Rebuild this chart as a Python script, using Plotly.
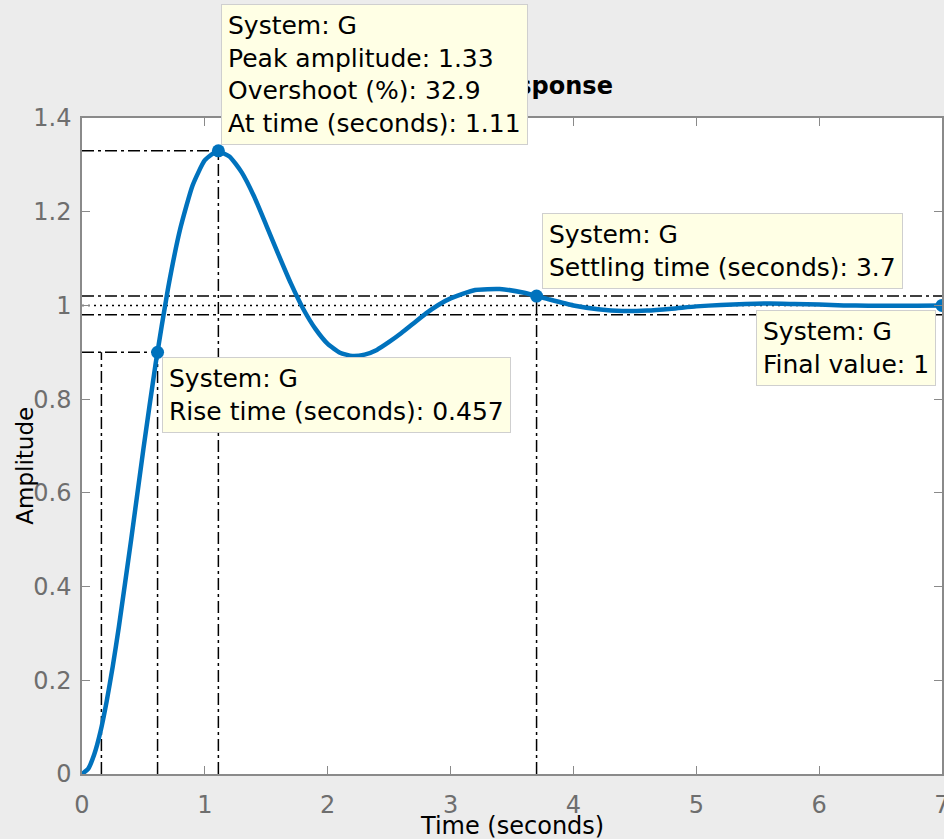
import plotly.graph_objects as go

# ---- data ----
time_s = [0.0, 0.05, 0.1, 0.15, 0.2, 0.25, 0.3, 0.4, 0.5, 0.6, 0.7, 0.8, 0.9, 1.0, 1.1, 1.2, 1.3, 1.4,
          1.5, 1.6, 1.7, 1.8, 1.9, 2.0, 2.1, 2.2, 2.3, 2.4, 2.5, 2.6, 2.7, 2.8, 2.9,
          3.0, 3.2, 3.4, 3.6, 3.8, 4.0, 4.2, 4.4, 4.6, 4.8, 5.0, 5.2, 5.4, 5.6, 5.8,
          6.0, 6.2, 6.4, 6.6, 6.8, 7.0]
amplitude = [0.0, 0.011, 0.042, 0.090, 0.154, 0.229, 0.314, 0.500, 0.694, 0.877, 1.036, 1.164, 1.256, 1.310,
             1.329, 1.318, 1.284, 1.233, 1.171, 1.108, 1.047, 0.993, 0.950, 0.918,
             0.899, 0.892, 0.895, 0.905, 0.922, 0.941, 0.962, 0.983, 1.001, 1.015,
             1.033, 1.035, 1.027, 1.013, 1.000, 0.992, 0.988, 0.989, 0.993, 0.998,
             1.001, 1.003, 1.004, 1.003, 1.002, 1.000, 0.9995, 0.9992, 0.9994, 0.9998]

rise_start = 0.158          # 10% time
rise_t, rise_y = 0.615, 0.9
peak_t, peak_y = 1.11, 1.33
settle_t, settle_y = 3.7, 1.02
final_t, final_y = 7.0, 1.0
band_lo, band_hi = 0.98, 1.02

x_ticks = [0, 1, 2, 3, 4, 5, 6, 7]
y_ticks = [0, 0.2, 0.4, 0.6, 0.8, 1.0, 1.2, 1.4]
y_tick_text = ["0", "0.2", "0.4", "0.6", "0.8", "1", "1.2", "1.4"]

BLUE = "#0072BD"
DASHDOT = "12px,4px,3px,4px"
DOT = "2px,4px"
FONT = "DejaVu Sans"

fig = go.Figure()


def ref_line(xs, ys, dash):
    fig.add_trace(go.Scatter(x=xs, y=ys, mode="lines", showlegend=False,
                             hoverinfo="skip",
                             line=dict(color="black", width=1.5, dash=dash)))


# settling band and final value lines
ref_line([0, final_t], [band_hi, band_hi], DASHDOT)
ref_line([0, final_t], [band_lo, band_lo], DASHDOT)
ref_line([0, final_t], [final_y, final_y], DOT)
# peak lines
ref_line([0, peak_t], [peak_y, peak_y], DASHDOT)
ref_line([peak_t, peak_t], [0, peak_y], DASHDOT)
# rise time lines
ref_line([0, rise_t], [rise_y, rise_y], DASHDOT)
ref_line([rise_t, rise_t], [0, rise_y], DASHDOT)
ref_line([rise_start, rise_start], [0, rise_y], DASHDOT)
# settling vertical
ref_line([settle_t, settle_t], [0, settle_y], DASHDOT)

# response curve
fig.add_trace(go.Scatter(x=time_s, y=amplitude, mode="lines", showlegend=False,
                         line=dict(color=BLUE, width=4.5, shape="spline", smoothing=0.5)))
# characteristic markers
fig.add_trace(go.Scatter(x=[rise_t, peak_t, settle_t, final_t],
                         y=[rise_y, peak_y, settle_y, final_y],
                         mode="markers", showlegend=False, cliponaxis=False,
                         marker=dict(color=BLUE, size=13)))

axis_common = dict(showline=True, linecolor="#8a8a8a", linewidth=1.5, mirror="ticks",
                   ticks="inside", ticklen=8, tickwidth=1.2, tickcolor="#8a8a8a",
                   showgrid=False, zeroline=False, ticklabeloverflow="allow",
                   automargin=False,
                   tickfont=dict(family=FONT, size=24, color="#6e6e6e"))

fig.update_xaxes(range=[0, 7], tickvals=x_ticks, ticklabelstandoff=8, **axis_common)
fig.update_yaxes(range=[0, 1.4], tickvals=y_ticks, ticktext=y_tick_text,
                 ticklabelstandoff=4, **axis_common)

tip = dict(showarrow=False, align="left", bgcolor="#ffffe5", bordercolor="#cfcfcf",
           borderwidth=1, borderpad=6, xref="x", yref="y",
           font=dict(family=FONT, size=25, color="black"))

annotations = [
    dict(text="<b>Step Response</b>", xref="paper", yref="paper", x=0.5,
         y=(774 - 86) / 656, showarrow=False, xanchor="center", yanchor="middle",
         font=dict(family=FONT, size=24, color="black")),
    dict(text="Time (seconds)", xref="paper", yref="paper", x=0.5, y=-52 / 656,
         showarrow=False, xanchor="center", yanchor="middle",
         font=dict(family=FONT, size=24, color="black")),
    dict(text="Amplitude", xref="paper", yref="paper", x=-57 / 860, y=0.47,
         showarrow=False, xanchor="center", yanchor="middle", textangle=-90,
         font=dict(family=FONT, size=23, color="black")),
    dict(text="System: G<br>Peak amplitude: 1.33<br>Overshoot (%): 32.9<br>At time (seconds): 1.11",
         x=peak_t, y=peak_y, xanchor="left", yanchor="bottom", xshift=3, yshift=6, **tip),
    dict(text="System: G<br>Rise time (seconds): 0.457",
         x=rise_t, y=rise_y, xanchor="left", yanchor="top", xshift=4, yshift=-5, **tip),
    dict(text="System: G<br>Settling time (seconds): 3.7",
         x=settle_t, y=settle_y, xanchor="left", yanchor="bottom", xshift=5, yshift=7, **tip),
    dict(text="System: G<br>Final value: 1",
         x=final_t, y=final_y, xanchor="right", yanchor="top", xshift=-6, yshift=-5, **tip),
]

fig.update_layout(width=944, height=839,
                  margin=dict(l=82, r=2, t=118, b=65),
                  paper_bgcolor="#ececec", plot_bgcolor="white",
                  annotations=annotations)

fig.write_html("out.html", config={"displayModeBar": False},
               post_script="document.body.style.margin='0';document.body.style.overflow='hidden';")
